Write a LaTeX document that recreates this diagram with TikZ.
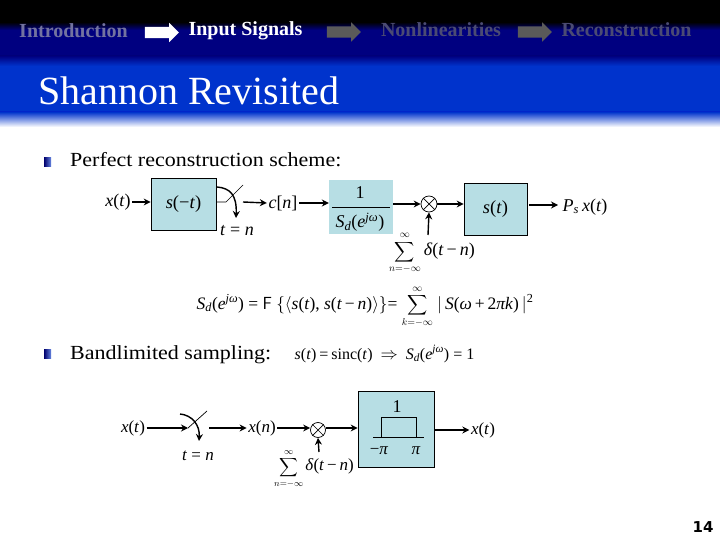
\documentclass[tikz,border=0pt]{standalone}
\usepackage{amsmath,amssymb}
\usepackage{fontspec}
\setmainfont{Liberation Serif}
\newfontfamily\numfont{DejaVu Sans}
\newfontfamily\bodyfont[FakeStretch=1.1]{Liberation Serif}
\newfontfamily\crumbfont{Liberation Serif}
\usetikzlibrary{arrows.meta,shapes.arrows}
\definecolor{navy}{RGB}{0,0,128}
\definecolor{hblue}{RGB}{0,51,204}
\definecolor{boxfill}{RGB}{183,222,228}
\definecolor{crumbA}{RGB}{115,115,160}
\definecolor{crumbB}{RGB}{75,75,115}
\definecolor{arrowgray}{RGB}{90,90,90}
\newcommand\mv[1]{\textit{#1}}
\newcommand\sdw{\mv{S}\textsubscript{\mv{d}}(\mv{e}\textsuperscript{\mv{jω}})}
\newcommand\sumsym[2]{{\fontsize{#2}{#2}\selectfont$\displaystyle\sum_{#1=-\infty}^{\infty}$}}
\tikzset{
 x=1pt,y=-1pt,
 sig/.style={-{Stealth[length=7pt,width=7pt]},line width=1.4pt},
 thin line/.style={line width=.7pt},
 blk/.style={draw=black,line width=.7pt,fill=boxfill,inner sep=0pt},
 lab/.style={inner sep=1.5pt,font=\fontsize{18}{20}\selectfont},
 smlab/.style={inner sep=1.5pt,font=\fontsize{17}{20}\selectfont},
 crumb/.style={inner sep=0pt,font=\crumbfont\fontsize{20}{22}\selectfont\bfseries},
 crumbarrow/.style={single arrow,draw=none,fill=#1,minimum height=34pt,
   single arrow head extend=4pt,single arrow head indent=0pt,inner sep=0pt},
 body/.style={inner sep=0pt,anchor=base west,font=\bodyfont\fontsize{20}{24}\selectfont},
 mult/.style={draw=black,line width=.7pt,fill=white,circle,minimum size=#1,inner sep=0pt},
 bullet/.style={left color=navy!85!black,right color=hblue!60!white},
}
\begin{document}
\begin{tikzpicture}
\useasboundingbox (0,0) rectangle (720,540);
\fill[white] (0,0) rectangle (720,540);
\fill[black] (0,0) rectangle (720,22);
\shade[top color=black,bottom color=navy] (0,22) rectangle (720,30);
\fill[navy] (0,30) rectangle (720,56);
\shade[top color=navy,bottom color=hblue] (0,56) rectangle (720,66);
\fill[hblue] (0,66) rectangle (720,112);
\shade[top color=hblue,bottom color=white] (0,112) rectangle (720,127);
% breadcrumbs
\node[crumb,text=crumbA] (c1) at (73.5,31) {Introduction};
\node[crumbarrow=white] (a1) at (159,32.5) {\rule{0pt}{11pt}};
\node[crumb,text=white] (c2) at (245.5,31) {Input Signals};
\node[crumbarrow=arrowgray] (a2) at (341,32) {\rule{0pt}{11pt}};
\node[crumb,text=crumbB] (c3) at (441,30) {Nonlinearities};
\node[crumbarrow=arrowgray] (a3) at (532,32) {\rule{0pt}{11pt}};
\node[crumb,text=crumbB] (c4) at (626.5,30) {Reconstruction};
\node[inner sep=0pt,anchor=base west,text=white,font=\fontsize{40}{44}\selectfont] (title) at (38,104.5) {Shannon Revisited};
% bullets
\shade[bullet] (44,157.5) rectangle (51,166.5);
\node[body] (b1) at (70,167) {Perfect reconstruction scheme:};
\shade[bullet] (44,349.5) rectangle (51,358.5);
\node[body] (b2) at (70,359) {Bandlimited sampling:};
% top chain
\node[lab] (x1) at (118,202) {\mv{x}(\mv{t})};
\node[blk,minimum width=65pt,minimum height=52pt,font=\fontsize{18.5}{20}\selectfont] (s1) at (183.5,204) {\mv{s}(−\mv{t})};
\coordinate (sw1a) at (226,202);
\coordinate (sw1b) at (243,185);
\coordinate (sw1c) at (243,202);
\coordinate (cv1a) at (217,187);
\coordinate (cv1b) at (236,218);
\node[lab] (c) at (283,203) {\mv{c}[\mv{n}]};
\node[fill=boxfill,minimum width=64pt,minimum height=54pt,inner sep=0pt] (d) at (361,207) {};
\node[lab] (done) at (360,193) {1};
\node[lab] (dden) at (360,222) {\sdw};
\coordinate (fr1) at (332,207);
\coordinate (fr2) at (390,207);
\draw[thin line] (fr1) -- (fr2);
\node[mult=16pt] (m1) at (429,204) {};
\draw[thin line] (m1.45) -- (m1.225) (m1.135) -- (m1.315);
\node[blk,minimum width=63pt,minimum height=52pt,font=\fontsize{18.5}{20}\selectfont] (s2) at (495.5,209) {\mv{s}(\mv{t})};
\coordinate (pin) at (558,205);
\node[lab] (p) at (585,207) {\mv{P}\textsubscript{\mv{s}}\,\mv{x}(\mv{t})};
\node[lab] (tn1) at (237,231) {\mv{t} = \mv{n}};
\node[lab,anchor=west,inner sep=0pt] (sum1) at (389,253) {\sumsym{n}{14}\hspace{3pt}\mv{δ}(\mv{t}\,−\,\mv{n})};
\coordinate (sum1top) at (428,235);
\draw[sig] (x1.east) -- (s1.west |- x1.east);
\draw[thin line] (s1.east |- sw1a) -- (sw1a) -- (sw1b);
\draw[sig] (cv1a) .. controls (230,188) and (237,195) .. (cv1b);
\draw[sig] (sw1c) -- (c.west);
\draw[sig] (c.east) -- (d.west |- c.east);
\draw[sig] (d.east |- m1.west) -- (m1.west);
\draw[sig] (m1.east) -- (s2.west |- m1.east);
\draw[sig] (s2.east |- pin) ++(2,0) -- (pin);
\draw[sig] (sum1top) -- (m1.south);
% equations
\node[inner sep=0pt,font=\fontsize{17.5}{20}\selectfont] (eq1) at (365,307) {\sdw{} = \textsf{F} $\left\{\left\langle\text{\mv{s}(\mv{t}), \mv{s}(\mv{t}\,−\,\mv{n})}\right\rangle\right\}$= \sumsym{k}{14} $|$\,\mv{S}(\mv{ω}\,+\,2\mv{πk})\,$|$\textsuperscript{2}};
\node[inner sep=0pt,font=\fontsize{16}{18}\selectfont] (eq2) at (384.5,354) {\mv{s}(\mv{t})\hspace{3pt}=\hspace{3pt}sinc(\mv{t})\hspace{8pt}$\Rightarrow$\hspace{8pt}\sdw{} = 1};
% bottom chain
\node[smlab] (x2) at (133,428) {\mv{x}(\mv{t})};
\coordinate (sw2a) at (188,428);
\coordinate (sw2b) at (207,411);
\coordinate (cv2a) at (180,414);
\coordinate (cv2b) at (199,441);
\coordinate (sw2c) at (209,428);
\node[smlab] (xn) at (262,428) {\mv{x}(\mv{n})};
\node[mult=15pt] (m2) at (318,430) {};
\draw[thin line] (m2.45) -- (m2.225) (m2.135) -- (m2.315);
\node[blk,minimum width=76pt,minimum height=76pt] (lp) at (396,429) {};
\node[lab] (one) at (397,407) {1};
\coordinate (r1) at (381,437);
\coordinate (r2) at (381,417);
\coordinate (r3) at (416,417);
\coordinate (r4) at (416,437);
\coordinate (ax1) at (373,437);
\coordinate (ax2) at (424,437);
\draw[line width=.6pt] (ax1) -- (ax2);
\draw[line width=.6pt] (r1) -- (r2) -- (r3) -- (r4);
\node[smlab] (mpi) at (379,451) {−\mv{π}};
\node[smlab] (ppi) at (416,451) {\mv{π}};
\node[smlab] (x3) at (483,430) {\mv{x}(\mv{t})};
\node[smlab] (tn2) at (198,456) {\mv{t} = \mv{n}};
\node[smlab,anchor=west,inner sep=0pt] (sum2) at (274,469) {\sumsym{n}{13}\hspace{2pt}\mv{δ}(\mv{t}\,−\,\mv{n})};
\coordinate (sum2top) at (319,452);
\draw[sig] (x2.east) -- (sw2a);
\draw[thin line] (sw2a) -- (sw2b);
\draw[sig] (cv2a) .. controls (192,415) and (200,425) .. (cv2b);
\draw[sig] (sw2c) -- (xn.west);
\draw[sig] (xn.east) -- (m2.west |- xn.east);
\draw[sig] (m2.east |- xn.east) -- (lp.west |- xn.east);
\draw[sig] (lp.east |- x3.west) ++(1,0) -- (x3.west);
\draw[sig] (sum2top) -- (m2.south);
\node[inner sep=0pt,font=\numfont\bfseries\fontsize{15}{17}\selectfont] (pg) at (703,527) {14};
\end{tikzpicture}
\end{document}
